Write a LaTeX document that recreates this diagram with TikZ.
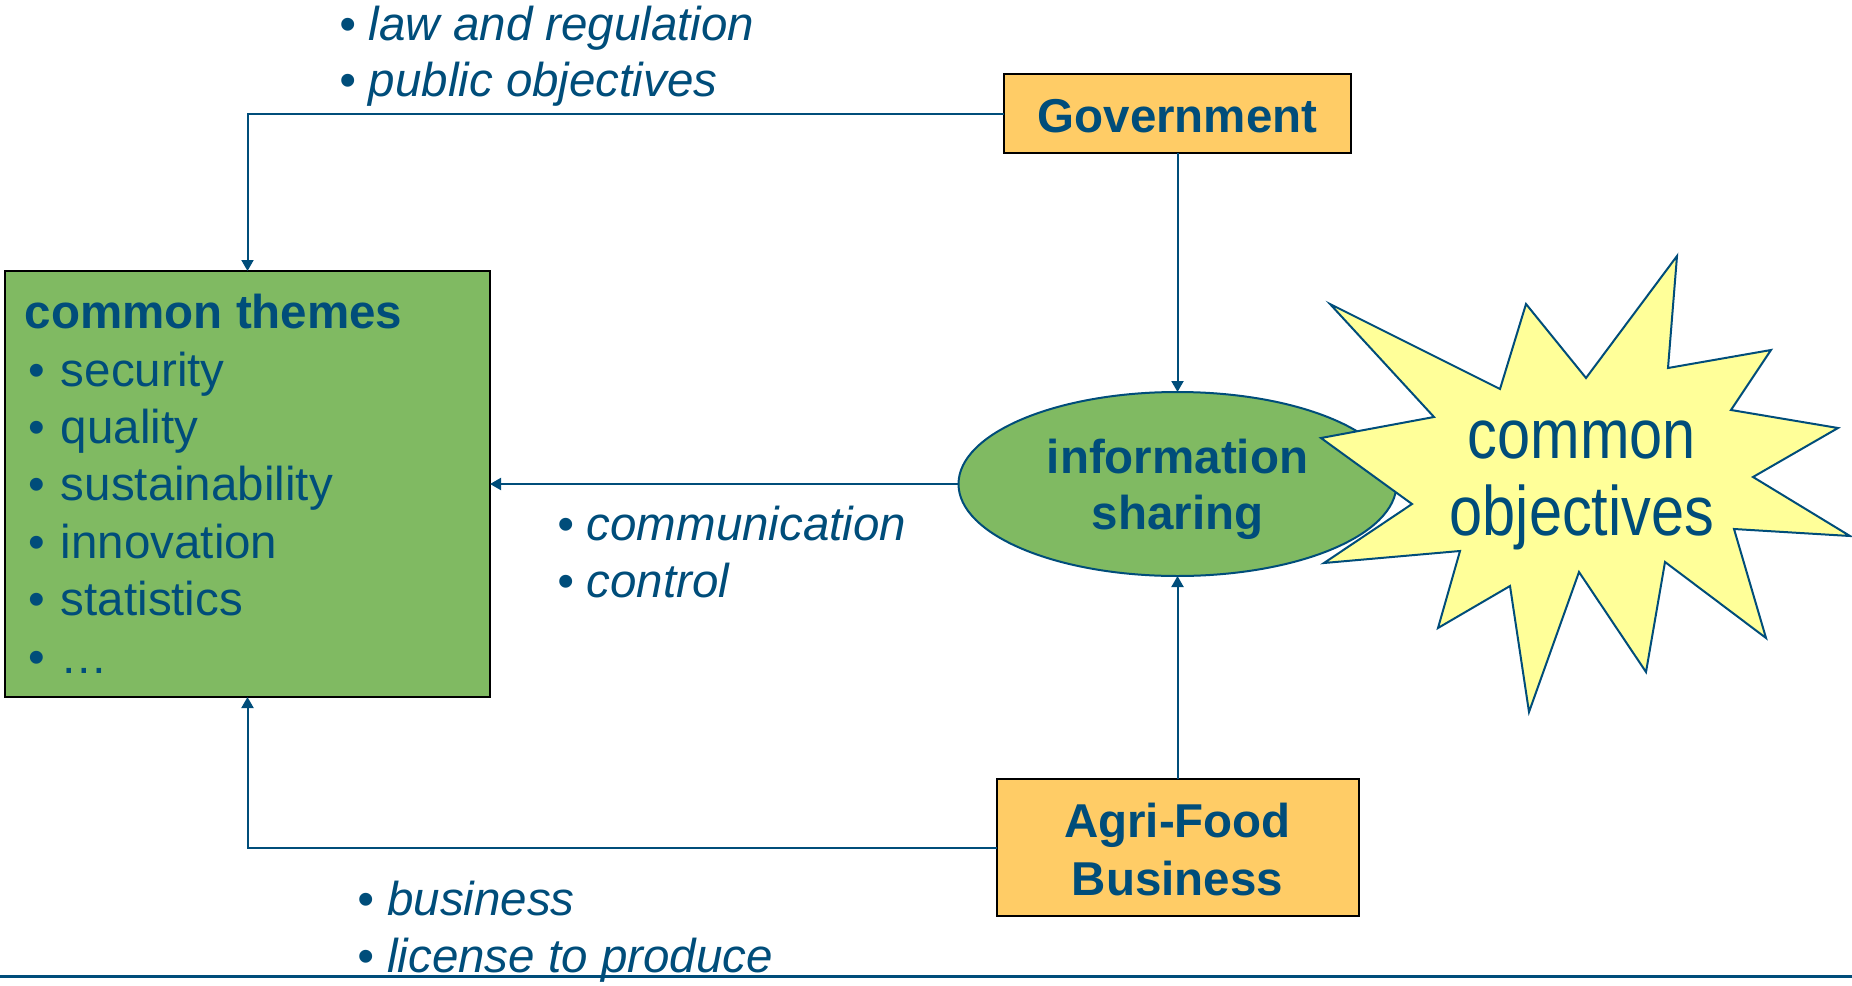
\documentclass[tikz,border=0pt]{standalone}
\usepackage{fontspec}
\setmainfont{Liberation Sans}
\newfontfamily\narrowfont[FakeStretch=0.85]{Liberation Sans}
\usetikzlibrary{arrows.meta,shapes.geometric}
\definecolor{tblue}{RGB}{0,77,122}
\definecolor{greenfill}{RGB}{128,186,98}
\definecolor{orangefill}{RGB}{255,204,102}
\definecolor{yellowfill}{RGB}{255,255,153}
\newcommand\thbul{•\hspace{7.9pt}}
\begin{document}
\begin{tikzpicture}[x=0.5pt,y=-0.5pt,
  txt/.style={inner sep=0pt, outer sep=0pt, text=tblue, font=\fontsize{23.75}{28.75}\selectfont},
  boldtxt/.style={txt, font=\fontsize{23.75}{28.75}\selectfont\bfseries},
  italtxt/.style={txt, font=\fontsize{23.75}{28.75}\selectfont\itshape, anchor=base west},
  box/.style={draw=black, line width=1pt, inner sep=0pt, outer sep=0pt},
  conn/.style={draw=tblue, line width=1pt, -{Triangle[length=5.5pt,width=6pt]}},
]
\useasboundingbox (0,0) rectangle (1852,985);

% boxes
\node[box, fill=orangefill, minimum width=173.5pt, minimum height=39.5pt] (gov) at (1177.5,113.5) {};
\node[box, fill=orangefill, minimum width=181pt, minimum height=68.5pt] (agri) at (1177.5,847.5) {};
\node[box, fill=greenfill, minimum width=242.5pt, minimum height=213pt] (themes) at (247.5,484) {};
\node[ellipse, draw=tblue, line width=1pt, fill=greenfill, minimum width=219pt, minimum height=92pt, inner sep=0pt, outer sep=0pt] (info) at (1177.5,484) {};

% starburst
\draw[draw=tblue, line width=1pt, fill=yellowfill, line join=miter]
  (1330,304) -- (1500,389) -- (1526,304) -- (1586,378) -- (1677,256) -- (1668,368)
  -- (1771,350) -- (1731,410) -- (1838,428) -- (1753,477) -- (1850,536) -- (1734,529)
  -- (1766,638) -- (1665,562) -- (1646,672) -- (1579,572) -- (1529,712) -- (1510,586)
  -- (1438,628) -- (1460,551) -- (1324,563) -- (1412,504) -- (1321,438) -- (1434,417) -- cycle;

% texts
\node[boldtxt, anchor=base] (govtxt) at (1177.5,132) {Government};
\node[boldtxt, anchor=base] (agri1) at (1177.5,837) {Agri-Food};
\node[boldtxt, anchor=base] (agri2) at (1177.5,895) {Business};
\node[boldtxt, anchor=base] (info1) at (1177.5,473) {information};
\node[boldtxt, anchor=base] (info2) at (1177.5,529) {sharing};

\node[boldtxt, anchor=base west] (th0) at (25,328) {common themes};
\node[txt, anchor=base west] (th1) at (28.5,386) {\thbul security};
\node[txt, anchor=base west] (th2) at (28.5,443) {\thbul quality};
\node[txt, anchor=base west] (th3) at (28.5,500) {\thbul sustainability};
\node[txt, anchor=base west] (th4) at (28.5,558) {\thbul innovation};
\node[txt, anchor=base west] (th5) at (28.5,615) {\thbul statistics};
\node[txt, anchor=base west] (th6) at (28.5,673) {\thbul …};

\node[txt, font=\narrowfont\fontsize{35}{40}\selectfont, anchor=base] (obj1) at (1582,458) {common};
\node[txt, font=\narrowfont\fontsize{35}{40}\selectfont, anchor=base] (obj2) at (1582,535) {objectives};

\node[italtxt] (lab1) at (339,40) {• law and regulation};
\node[italtxt] (lab2) at (339,96) {• public objectives};
\node[italtxt] (lab3) at (557,540) {• communication};
\node[italtxt] (lab4) at (557,597) {• control};
\node[italtxt] (lab5) at (357.5,915) {• business};
\node[italtxt] (lab6) at (357.5,972) {• license to produce};

% connectors
\draw[conn] (gov.west) -| (themes.north);
\draw[conn] (gov.south) -- (info.north);
\draw[conn] (agri.north) -- (info.south);
\draw[conn] (agri.west) -| (themes.south);
\draw[conn] (info.west) -- (themes.east);

% bottom rule
\coordinate (rl) at (0,976);
\coordinate (rr) at (1852,976);
\draw[tblue, line width=1.5pt] (rl) -- (rr);
\end{tikzpicture}
\end{document}
